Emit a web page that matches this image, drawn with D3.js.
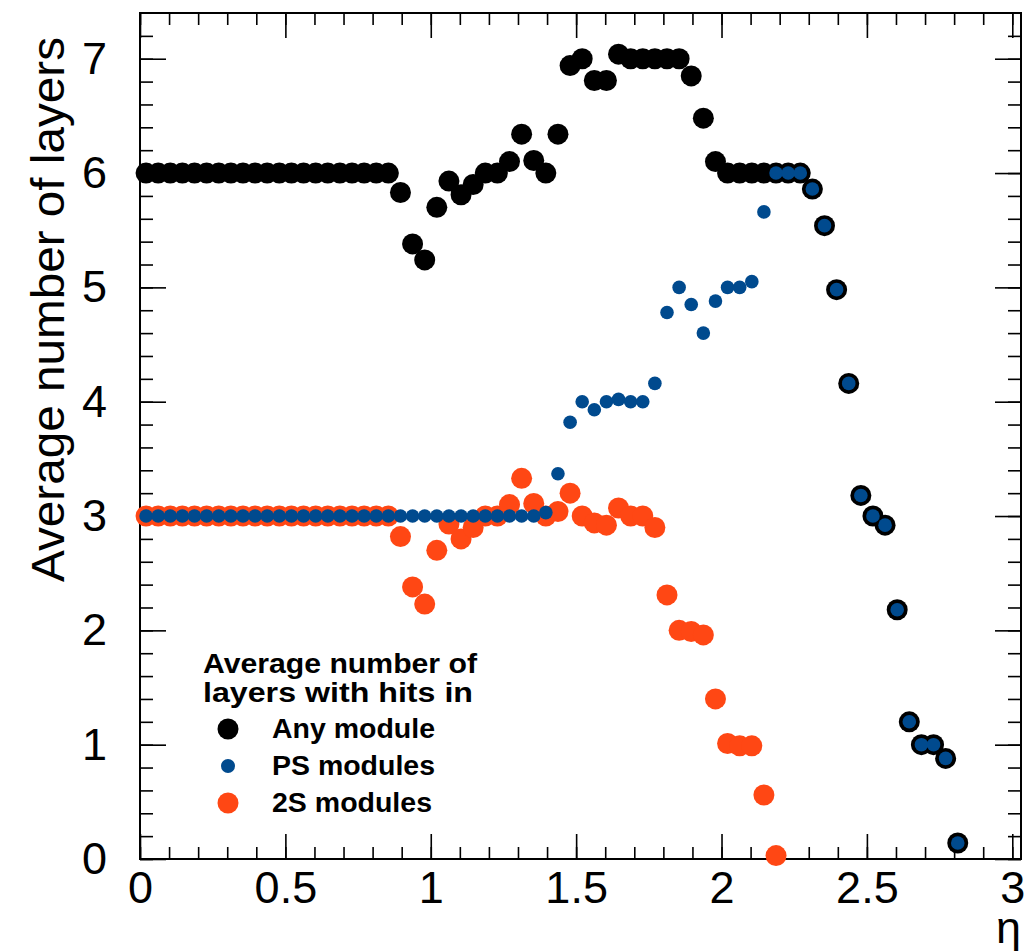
<!DOCTYPE html>
<meta charset="utf-8">
<style>
body { margin: 0; background: #fff; }
text { font-family: "Liberation Sans", Arial, sans-serif; }
.axis path { display: none; }
.axis line { stroke: #000; stroke-width: 1.6; }
</style>
<body>
<script src="https://d3js.org/d3.v7.min.js"></script>
<script>

// bin centres in eta
var eta = [0.0208, 0.0625, 0.1042, 0.1458, 0.1875, 0.2292, 0.2708, 0.3125, 0.3542, 0.3958,
           0.4375, 0.4792, 0.5208, 0.5625, 0.6042, 0.6458, 0.6875, 0.7292, 0.7708, 0.8125,
           0.8542, 0.8958, 0.9375, 0.9792, 1.0208, 1.0625, 1.1042, 1.1458, 1.1875, 1.2292,
           1.2708, 1.3125, 1.3542, 1.3958, 1.4375, 1.4792, 1.5208, 1.5625, 1.6042, 1.6458,
           1.6875, 1.7292, 1.7708, 1.8125, 1.8542, 1.8958, 1.9375, 1.9792, 2.0208, 2.0625,
           2.1042, 2.1458, 2.1875, 2.2292, 2.2708, 2.3125, 2.3542, 2.3958, 2.4375, 2.4792,
           2.5208, 2.5625, 2.6042, 2.6458, 2.6875, 2.7292, 2.7708, 2.8125];

// average number of layers with hits, per bin
var anyModule = [6, 6, 6, 6, 6, 6, 6, 6, 6, 6,
                 6, 6, 6, 6, 6, 6, 6, 6, 6, 6,
                 6, 5.83, 5.38, 5.24, 5.70, 5.93, 5.81, 5.90, 6.0, 6.0,
                 6.10, 6.34, 6.11, 6.0, 6.34, 6.94, 7.0, 6.81, 6.81, 7.04,
                 7.0, 7.0, 7.0, 7.0, 7.0, 6.85, 6.48, 6.10, 6.0, 6.0,
                 6.0, 6.0, 6.0, 6.0, 6.0, 5.86, 5.54, 4.98, 4.16, 3.18,
                 3.0, 2.92, 2.18, 1.20, 1.0, 1.0, 0.88, 0.14];

var psModules = [3, 3, 3, 3, 3, 3, 3, 3, 3, 3,
                 3, 3, 3, 3, 3, 3, 3, 3, 3, 3,
                 3, 3, 3, 3, 3, 3, 3, 3, 3, 3,
                 3, 3, 3, 3.03, 3.37, 3.82, 4.0, 3.93, 4.0, 4.02,
                 4.0, 4.0, 4.16, 4.78, 5.0, 4.85, 4.60, 4.88, 5.0, 5.0,
                 5.05, 5.66, 6.0, 6.0, 6.0, 5.86, 5.54, 4.98, 4.16, 3.18,
                 3.0, 2.92, 2.18, 1.20, 1.0, 1.0, 0.88, 0.14];

var twoSModules = [3, 3, 3, 3, 3, 3, 3, 3, 3, 3,
                   3, 3, 3, 3, 3, 3, 3, 3, 3, 3,
                   3, 2.82, 2.38, 2.23, 2.70, 2.93, 2.80, 2.90, 3.0, 3.0,
                   3.10, 3.33, 3.11, 3.0, 3.04, 3.20, 3.0, 2.94, 2.92, 3.07,
                   3.0, 3.0, 2.90, 2.31, 2.0, 1.99, 1.96, 1.40, 1.01, 0.99,
                   0.99, 0.56, 0.03, null, null, null, null, null, null, null,
                   null, null, null, null, null, null, null, null];

var xTicks = [0, 0.5, 1, 1.5, 2, 2.5, 3];
var xTickLabels = ["0", "0.5", "1", "1.5", "2", "2.5", "3"];
var yTicks = [0, 1, 2, 3, 4, 5, 6, 7];

var blue = "#004a8e", orange = "#ff4714";

var W = 1025, H = 951;
var margin = {top: 13, right: 4, bottom: 92, left: 140},
    width = W - margin.left - margin.right,
    height = H - margin.top - margin.bottom;

var x = d3.scaleLinear().domain([0, 3.03]).range([0, width]);
var y = d3.scaleLinear().domain([0, 7.4]).range([height, 0]);

var svg = d3.select("body").append("svg")
    .attr("width", W)
    .attr("height", H);
var g = svg.append("g")
    .attr("transform", "translate(" + margin.left + "," + margin.top + ")");

// minor ticks (inside the frame, all four sides)
var xMinor = d3.range(0, 3.03, 0.1), yMinor = d3.range(0, 7.4, 0.2);
g.append("g").attr("class", "axis").attr("transform", "translate(0," + height + ")")
    .call(d3.axisBottom(x).tickValues(xMinor).tickSize(-12).tickFormat(""));
g.append("g").attr("class", "axis")
    .call(d3.axisTop(x).tickValues(xMinor).tickSize(-12).tickFormat(""));
g.append("g").attr("class", "axis")
    .call(d3.axisLeft(y).tickValues(yMinor).tickSize(-13).tickFormat(""));
g.append("g").attr("class", "axis").attr("transform", "translate(" + width + ",0)")
    .call(d3.axisRight(y).tickValues(yMinor).tickSize(-13).tickFormat(""));

// major ticks + labels
var xAxis = g.append("g").attr("class", "axis").attr("transform", "translate(0," + height + ")")
    .call(d3.axisBottom(x).tickValues(xTicks).tickSize(-25).tickPadding(36)
        .tickFormat(function(d, i) { return xTickLabels[i]; }));
g.append("g").attr("class", "axis")
    .call(d3.axisTop(x).tickValues(xTicks).tickSize(-25).tickFormat(""));
var yAxis = g.append("g").attr("class", "axis")
    .call(d3.axisLeft(y).tickValues(yTicks).tickSize(-26).tickPadding(33).tickFormat(d3.format("d")));
g.append("g").attr("class", "axis").attr("transform", "translate(" + width + ",0)")
    .call(d3.axisRight(y).tickValues(yTicks).tickSize(-26).tickFormat(""));

xAxis.selectAll("text").attr("font-size", 45).attr("fill", "#000").attr("dy", "0.71em").attr("y", 12);
yAxis.selectAll("text").attr("font-size", 45).attr("fill", "#000");

// frame
g.append("rect")
    .attr("width", width).attr("height", height)
    .attr("fill", "none").attr("stroke", "#000").attr("stroke-width", 2);

// axis titles
svg.append("text")
    .attr("transform", "translate(64,37) rotate(-90)")
    .attr("text-anchor", "end")
    .attr("font-size", 46)
    .attr("textLength", 545)
    .attr("lengthAdjust", "spacingAndGlyphs")
    .text("Average number of layers");

// x title sits at the bottom edge and is partly cut off, as in the original
svg.append("text")
    .attr("x", 1021).attr("y", 943)
    .attr("text-anchor", "end")
    .attr("font-size", 45)
    .text("\u03b7");

// markers: 2S first, then any module, PS on top
var bins = eta.map(function(e, i) {
  return {eta: e, any: anyModule[i], ps: psModules[i], s2: twoSModules[i]};
});

g.selectAll(".s2").data(bins.filter(function(d) { return d.s2 !== null; }))
  .enter().append("circle").attr("class", "s2")
    .attr("cx", function(d) { return x(d.eta); })
    .attr("cy", function(d) { return y(d.s2); })
    .attr("r", 10.5).attr("fill", orange);

g.selectAll(".any").data(bins)
  .enter().append("circle").attr("class", "any")
    .attr("cx", function(d) { return x(d.eta); })
    .attr("cy", function(d) { return y(d.any); })
    .attr("r", 10.5).attr("fill", "#000");

g.selectAll(".ps").data(bins)
  .enter().append("circle").attr("class", "ps")
    .attr("cx", function(d) { return x(d.eta); })
    .attr("cy", function(d) { return y(d.ps); })
    .attr("r", 6.8).attr("fill", blue);

// legend
var leg = svg.append("g").attr("font-weight", "bold").attr("font-size", 27);
leg.append("text").attr("x", 203).attr("y", 673)
    .attr("textLength", 274).attr("lengthAdjust", "spacingAndGlyphs").text("Average number of");
leg.append("text").attr("x", 203).attr("y", 702)
    .attr("textLength", 270).attr("lengthAdjust", "spacingAndGlyphs").text("layers with hits in");

var entries = [
  {label: "Any module", color: "#000", r: 10.5, cy: 729, len: 163},
  {label: "PS modules", color: blue, r: 7, cy: 766, len: 163},
  {label: "2S modules", color: orange, r: 10.5, cy: 803, len: 160}
];
entries.forEach(function(e) {
  leg.append("circle").attr("cx", 228).attr("cy", e.cy).attr("r", e.r).attr("fill", e.color);
  leg.append("text").attr("x", 272).attr("y", e.cy + 9)
      .attr("textLength", e.len).attr("lengthAdjust", "spacingAndGlyphs").text(e.label);
});

</script>
</body>
